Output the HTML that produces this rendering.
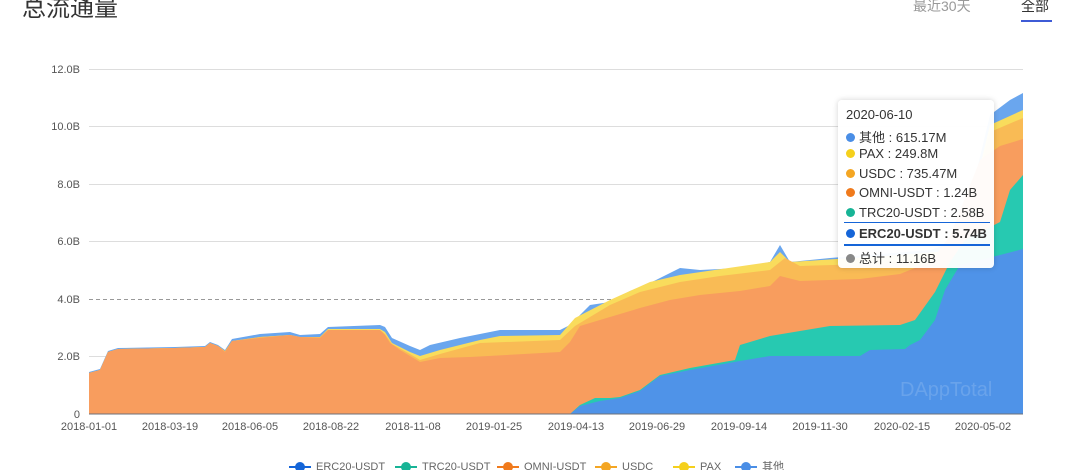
<!DOCTYPE html>
<html><head><meta charset="utf-8"><style>
body{margin:0;background:#fff;width:1080px;height:470px;overflow:hidden;font-family:"Liberation Sans","Noto Sans CJK SC",sans-serif;}
.t{position:absolute;left:22px;top:-12px;font-size:24px;color:#333;}
.tab{position:absolute;top:-4px;font-size:14px;}
.tip{position:absolute;left:838px;top:100px;width:156px;height:168px;background:rgba(255,255,255,0.96);border-radius:4px;box-shadow:0 0 6px rgba(0,0,0,0.18);font-size:13px;color:#333;}
.tip div{position:absolute;left:8px;white-space:nowrap;}
.d{display:inline-block;width:9px;height:9px;border-radius:50%;margin-right:4px;}
</style></head><body>
<div class="t">总流通量</div>
<div class="tab" style="left:913px;color:#999">最近30天</div>
<div class="tab" style="left:1021px;color:#333">全部</div>
<div style="position:absolute;left:1021px;top:20px;width:31px;height:2px;background:#3e5bd6"></div>
<svg width="1080" height="470" style="position:absolute;left:0;top:0">
<g stroke="#ddd" stroke-width="1">
<line x1="89" y1="69.5" x2="1023" y2="69.5"/><line x1="89" y1="126.5" x2="1023" y2="126.5"/>
<line x1="89" y1="184.5" x2="1023" y2="184.5"/><line x1="89" y1="241.5" x2="1023" y2="241.5"/>
<line x1="89" y1="356.5" x2="1023" y2="356.5"/>
</g>
<line x1="89" y1="299.5" x2="1023" y2="299.5" stroke="#999" stroke-dasharray="4,3"/>
<g font-size="11" fill="#555" text-anchor="end">
<text x="80" y="73">12.0B</text><text x="80" y="130">10.0B</text><text x="80" y="188">8.0B</text>
<text x="80" y="245">6.0B</text><text x="80" y="303">4.0B</text><text x="80" y="360">2.0B</text><text x="80" y="418">0</text>
</g>
<polygon fill="#6aa6ee" points="89,414 89,372 100,369 108,351 118,348 175,347 205,346 210,342 218,345 225,350 232,339 260,334 290,332 300,335 320,334 328,327 380,325 385,327 392,338 410,346 420,350 430,345 460,338 480,334 500,330 560,330 570,325 590,305 610,302 630,291 650,283 680,268 700,270 740,268 770,262 780,245 790,262 830,258 880,254 930,250 960,240 990,115 1010,100 1023,93 1023,414"/>
<polygon fill="#f9dc5c" points="89,414 89,373 100,370 108,352 118,349 175,348 205,347 210,343 218,346 225,351 232,341 260,337 290,335 300,337 320,337 328,329 380,329 385,332 392,343 410,352 420,356 440,350 480,340 500,336 560,335 575,318 610,300 650,282 680,275 770,262 780,252 790,262 900,255 960,250 990,125 1023,110 1023,414"/>
<polygon fill="#f9bb55" points="89,414 89,373 100,370 108,352 118,349 175,348 205,347 210,343 218,346 225,351 232,341 260,337 290,335 300,337 320,337 328,330 380,330 385,334 392,344 410,354 420,360 440,354 480,343 560,340 575,326 610,305 640,292 680,282 720,276 770,270 785,258 800,266 900,263 930,256 960,250 990,132 1023,118 1023,414"/>
<polygon fill="#f89d5e" points="89,414 89,373 100,370 108,352 118,349 175,348 205,347 210,343 218,346 225,352 232,341 260,338 290,335 300,337 320,338 328,330 380,330 385,335 390,343 400,350 420,362 440,358 470,357 560,352 570,342 580,326 610,317 640,308 670,300 700,295 740,291 770,286 780,276 800,281 860,279 900,274 930,262 950,236 980,160 1000,146 1023,139 1023,414"/>
<polygon fill="#27c9b1" points="570,414 580,405 595,398 610,398 620,397 640,390 660,375 690,368 735,360 740,345 770,336 830,326 900,325 915,320 935,292 950,262 965,240 1000,222 1010,190 1023,175 1023,414"/>
<polygon fill="#4f93e8" points="570,414 580,406 600,401 620,398 640,391 660,376 690,370 740,361 770,356 860,356 870,350 905,349 910,345 920,340 935,320 945,290 960,265 1000,255 1023,249 1023,414"/>
<line x1="89" y1="414" x2="1023" y2="414" stroke="#6e7079" stroke-width="1"/>
<g font-size="11" fill="#555" text-anchor="middle">
<text x="89" y="430">2018-01-01</text><text x="170" y="430">2018-03-19</text><text x="250" y="430">2018-06-05</text>
<text x="331" y="430">2018-08-22</text><text x="413" y="430">2018-11-08</text><text x="494" y="430">2019-01-25</text>
<text x="576" y="430">2019-04-13</text><text x="657" y="430">2019-06-29</text><text x="739" y="430">2019-09-14</text>
<text x="820" y="430">2019-11-30</text><text x="902" y="430">2020-02-15</text><text x="983" y="430">2020-05-02</text>
</g>
<g font-size="11" fill="#666">
<line x1="289" y1="467" x2="311" y2="467" stroke="#1565d8" stroke-width="2"/><circle cx="300" cy="467" r="5" fill="#1565d8"/><text x="316" y="470">ERC20-USDT</text>
<line x1="395" y1="467" x2="417" y2="467" stroke="#17b496" stroke-width="2"/><circle cx="406" cy="467" r="5" fill="#17b496"/><text x="422" y="470">TRC20-USDT</text>
<line x1="497" y1="467" x2="519" y2="467" stroke="#f07a1c" stroke-width="2"/><circle cx="508" cy="467" r="5" fill="#f07a1c"/><text x="524" y="470">OMNI-USDT</text>
<line x1="595" y1="467" x2="617" y2="467" stroke="#f4a623" stroke-width="2"/><circle cx="606" cy="467" r="5" fill="#f4a623"/><text x="622" y="470">USDC</text>
<line x1="673" y1="467" x2="695" y2="467" stroke="#f5d01c" stroke-width="2"/><circle cx="684" cy="467" r="5" fill="#f5d01c"/><text x="700" y="470">PAX</text>
<line x1="735" y1="467" x2="757" y2="467" stroke="#4a8ee6" stroke-width="2"/><circle cx="746" cy="467" r="5" fill="#4a8ee6"/><text x="762" y="470">其他</text>
</g>
<text x="900" y="396" font-size="20" fill="#ffffff" fill-opacity="0.15">DAppTotal</text>
</svg>
<div class="tip">
<div style="top:7px">2020-06-10</div>
<div style="top:27px"><span class="d" style="background:#4a8ee6"></span>其他 : 615.17M</div>
<div style="top:46px"><span class="d" style="background:#f5d01c"></span>PAX : 249.8M</div>
<div style="top:66px"><span class="d" style="background:#f4a623"></span>USDC : 735.47M</div>
<div style="top:85px"><span class="d" style="background:#f07a1c"></span>OMNI-USDT : 1.24B</div>
<div style="top:105px"><span class="d" style="background:#17b496"></span>TRC20-USDT : 2.58B</div>
<div style="top:122px;left:6px;width:146px;height:1px;background:#1565d8"></div>
<div style="top:126px;font-weight:bold"><span class="d" style="background:#1565d8"></span>ERC20-USDT : 5.74B</div>
<div style="top:144px;left:6px;width:146px;height:2px;background:#1565d8"></div>
<div style="top:148px"><span class="d" style="background:#888"></span>总计 : 11.16B</div>
</div>
</body></html>
